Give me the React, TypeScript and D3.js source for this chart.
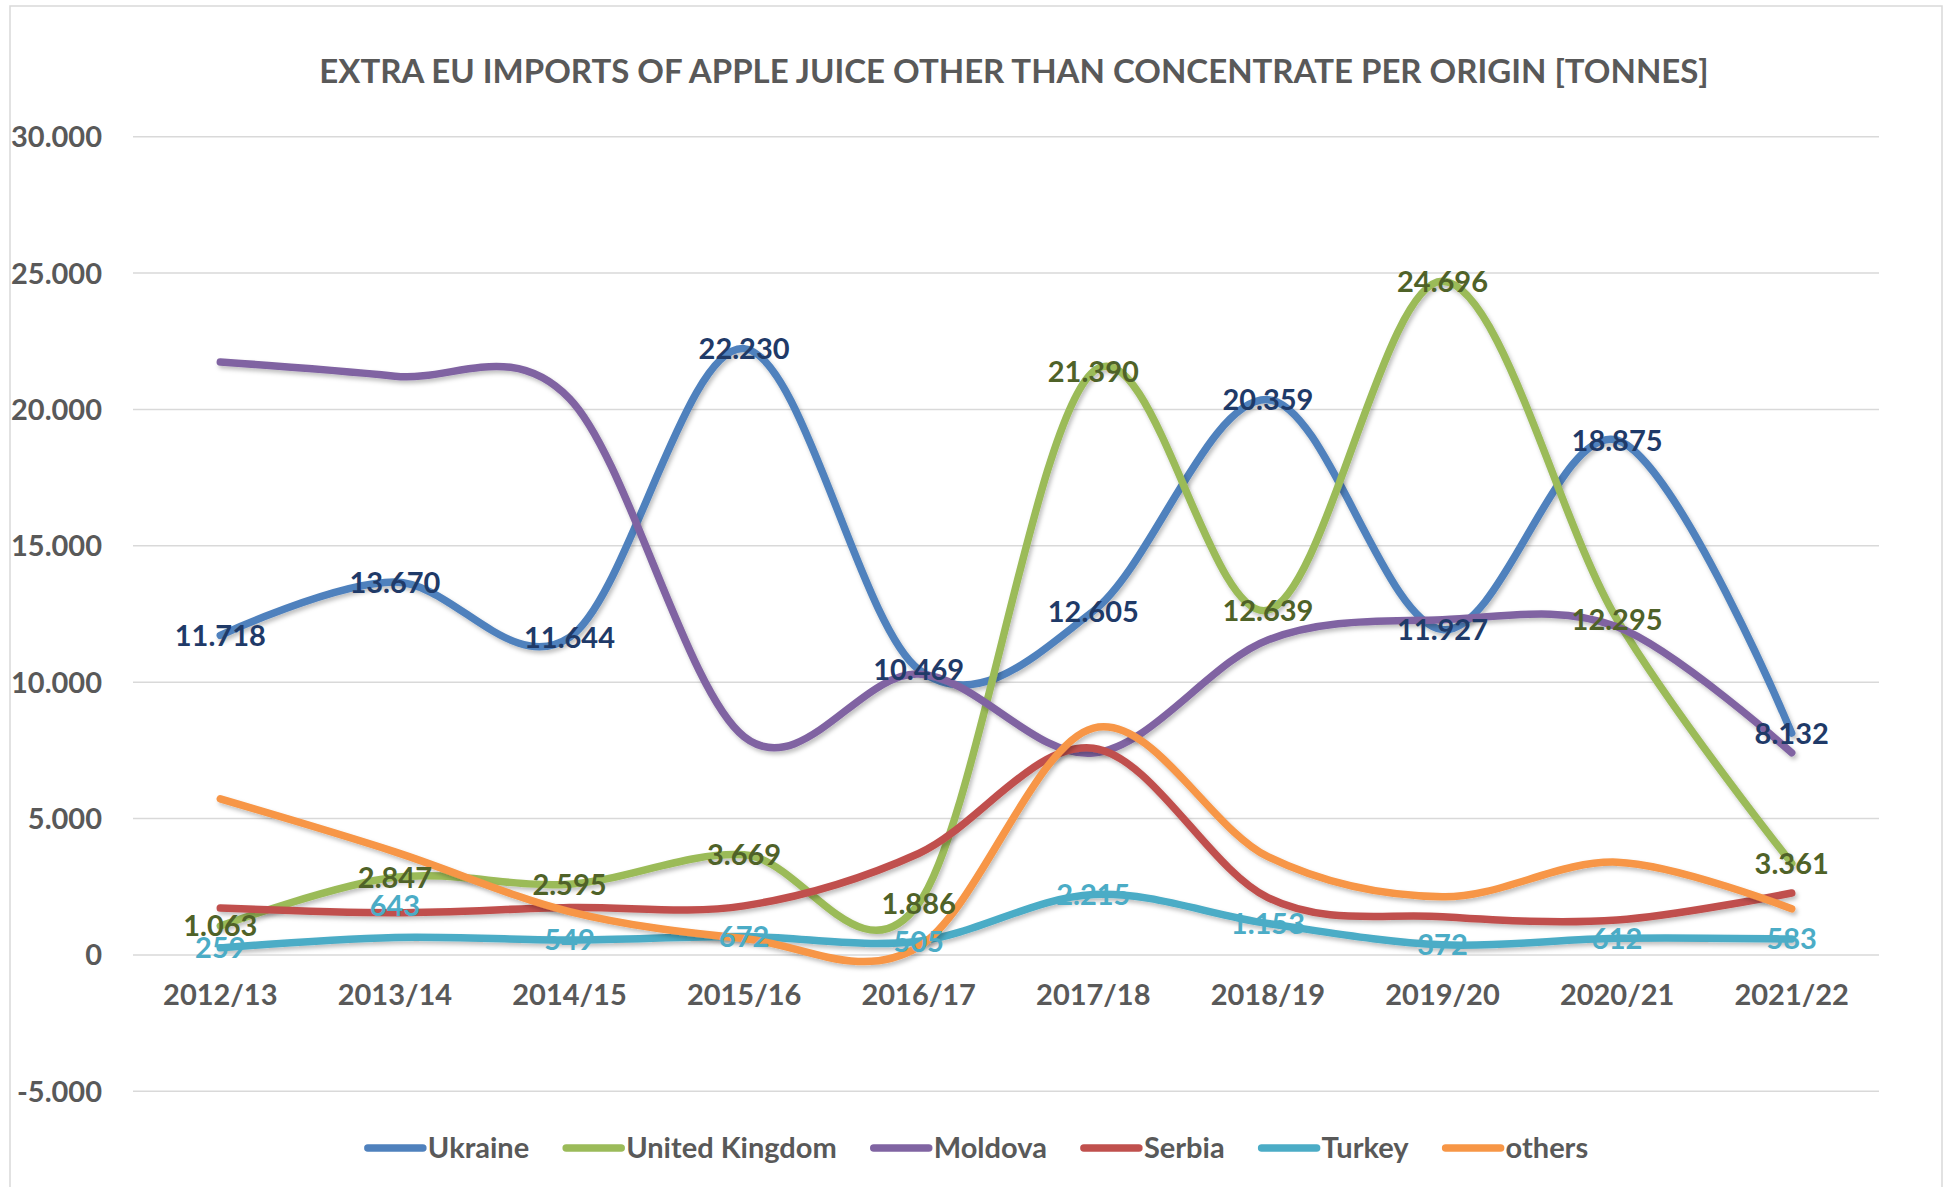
import React, { useRef, useEffect } from 'react';
import * as d3 from 'd3';

const seasons = ['2012/13', '2013/14', '2014/15', '2015/16', '2016/17', '2017/18', '2018/19', '2019/20', '2020/21', '2021/22'];

const ukraine = [11718, 13670, 11644, 22230, 10469, 12605, 20359, 11927, 18875, 8132];
const unitedKingdom = [1063, 2847, 2595, 3669, 1886, 21390, 12639, 24696, 12295, 3361];
const moldova = [21740, 21220, 20400, 8000, 10300, 7400, 11550, 12290, 12030, 7410];
const serbia = [1720, 1550, 1740, 1800, 3720, 7580, 2100, 1400, 1280, 2270];
const turkey = [259, 643, 549, 672, 505, 2215, 1153, 372, 612, 583];
const others = [5720, 3780, 1590, 600, 300, 8320, 3600, 2130, 3400, 1690];

const yTicks = [-5000, 0, 5000, 10000, 15000, 20000, 25000, 30000];

const series = [
  { name: 'Ukraine', values: ukraine, color: '#4F81BD', label: '#1F3A68' },
  { name: 'United Kingdom', values: unitedKingdom, color: '#9BBB59', label: '#4F6228' },
  { name: 'Moldova', values: moldova, color: '#8064A2', label: null },
  { name: 'Serbia', values: serbia, color: '#C0504D', label: null },
  { name: 'Turkey', values: turkey, color: '#4BACC6', label: '#4BACC6' },
  { name: 'others', values: others, color: '#F79646', label: null },
];

const title = 'EXTRA EU IMPORTS OF APPLE JUICE OTHER THAN CONCENTRATE PER ORIGIN [TONNES]';

const W = 1951;
const H = 1187;
const FONT = "Lato, 'Open Sans', sans-serif";

const App: React.FC = () => {
  const svgRef = useRef<SVGSVGElement | null>(null);

  useEffect(() => {
    const svg = d3.select(svgRef.current);
    svg.selectAll('*').remove();

    const fmt = d3.formatLocale({ decimal: ',', thousands: '.', grouping: [3], currency: ['', ''], minus: '-' }).format(',d');

    const left = 133;
    const right = 1879;

    const x = d3.scalePoint<string>().domain(seasons).range([left, right]).padding(0.5);
    const y = d3.scaleLinear().domain([-5000, 30000]).range([1091.3, 136.7]);

    const defs = svg.append('defs');
    const f = defs.append('filter').attr('id', 'shadow').attr('x', '-10%').attr('y', '-10%').attr('width', '120%').attr('height', '120%');
    f.append('feDropShadow').attr('dx', 2).attr('dy', 3).attr('stdDeviation', 2).attr('flood-color', '#000').attr('flood-opacity', 0.25);

    // frame
    svg.append('rect')
      .attr('x', 10).attr('y', 6).attr('width', 1932).attr('height', 1220)
      .attr('fill', '#fff').attr('stroke', '#D9D9D9').attr('stroke-width', 1.5);

    // title
    svg.append('text')
      .attr('x', 1014).attr('y', 83)
      .attr('text-anchor', 'middle')
      .attr('font-family', FONT).attr('font-weight', 700).attr('font-size', 33)
      .attr('fill', '#595959')
      .text(title);

    // grid + y labels
    const grid = svg.append('g');
    grid.selectAll('line')
      .data(yTicks)
      .enter()
      .append('line')
      .attr('x1', left).attr('x2', right)
      .attr('y1', d => y(d)).attr('y2', d => y(d))
      .attr('stroke', '#D9D9D9').attr('stroke-width', 1.5);

    grid.selectAll('text')
      .data(yTicks)
      .enter()
      .append('text')
      .attr('x', 102).attr('y', d => y(d))
      .attr('dy', '0.36em')
      .attr('text-anchor', 'end')
      .attr('font-family', FONT).attr('font-weight', 700).attr('font-size', 29)
      .attr('fill', '#595959')
      .text(d => fmt(d));

    // x labels
    svg.append('g')
      .selectAll('text')
      .data(seasons)
      .enter()
      .append('text')
      .attr('x', d => x(d) || 0).attr('y', 995)
      .attr('dy', '0.36em')
      .attr('text-anchor', 'middle')
      .attr('font-family', FONT).attr('font-weight', 700).attr('font-size', 29)
      .attr('fill', '#595959')
      .text(d => d);

    // lines
    const line = d3.line<number>()
      .x((_, i) => x(seasons[i]) || 0)
      .y(d => y(d))
      .curve(d3.curveCardinal.tension(0));

    svg.append('g')
      .selectAll('path')
      .data(series)
      .enter()
      .append('path')
      .attr('d', d => line(d.values))
      .attr('fill', 'none')
      .attr('stroke', d => d.color)
      .attr('stroke-width', 7.5)
      .attr('stroke-linecap', 'round')
      .attr('stroke-linejoin', 'round')
      .attr('filter', 'url(#shadow)');

    // data labels
    const labels = svg.append('g');
    series.filter(s => s.label).forEach(s => {
      labels.selectAll(null)
        .data(s.values)
        .enter()
        .append('text')
        .attr('x', (_, i) => x(seasons[i]) || 0)
        .attr('y', (d, i) => y(d) - (s.name === 'Turkey' && i === 1 ? 32 : 0))
        .attr('dy', '0.36em')
        .attr('text-anchor', 'middle')
        .attr('font-family', FONT).attr('font-weight', 700).attr('font-size', 29)
        .attr('fill', s.label as string)
        .text(d => fmt(d));
    });

    // legend
    const legend = svg.append('g');
    const items = legend.selectAll('g')
      .data(series)
      .enter()
      .append('g');
    items.append('line')
      .attr('x1', 0).attr('x2', 55).attr('y1', 0).attr('y2', 0)
      .attr('stroke', d => d.color).attr('stroke-width', 7.5).attr('stroke-linecap', 'round');
    items.append('text')
      .attr('x', 60).attr('y', 0).attr('dy', '0.36em')
      .attr('font-family', FONT).attr('font-weight', 700).attr('font-size', 29)
      .attr('fill', '#595959')
      .text(d => d.name);

    const widths: number[] = [];
    items.each(function () {
      const t = d3.select(this).select('text').node() as SVGTextElement;
      widths.push(60 + t.getComputedTextLength());
    });
    const gap = 37;
    const total = d3.sum(widths) + gap * (widths.length - 1);
    let cx = 978 - total / 2;
    items.each(function (_, i) {
      d3.select(this).attr('transform', `translate(${cx},1148)`);
      cx += widths[i] + gap;
    });
  }, []);

  return (
    <svg ref={svgRef} width={W} height={H} style={{ position: 'absolute', left: 0, top: 0, background: '#fff' }}></svg>
  );
};

export default App;
